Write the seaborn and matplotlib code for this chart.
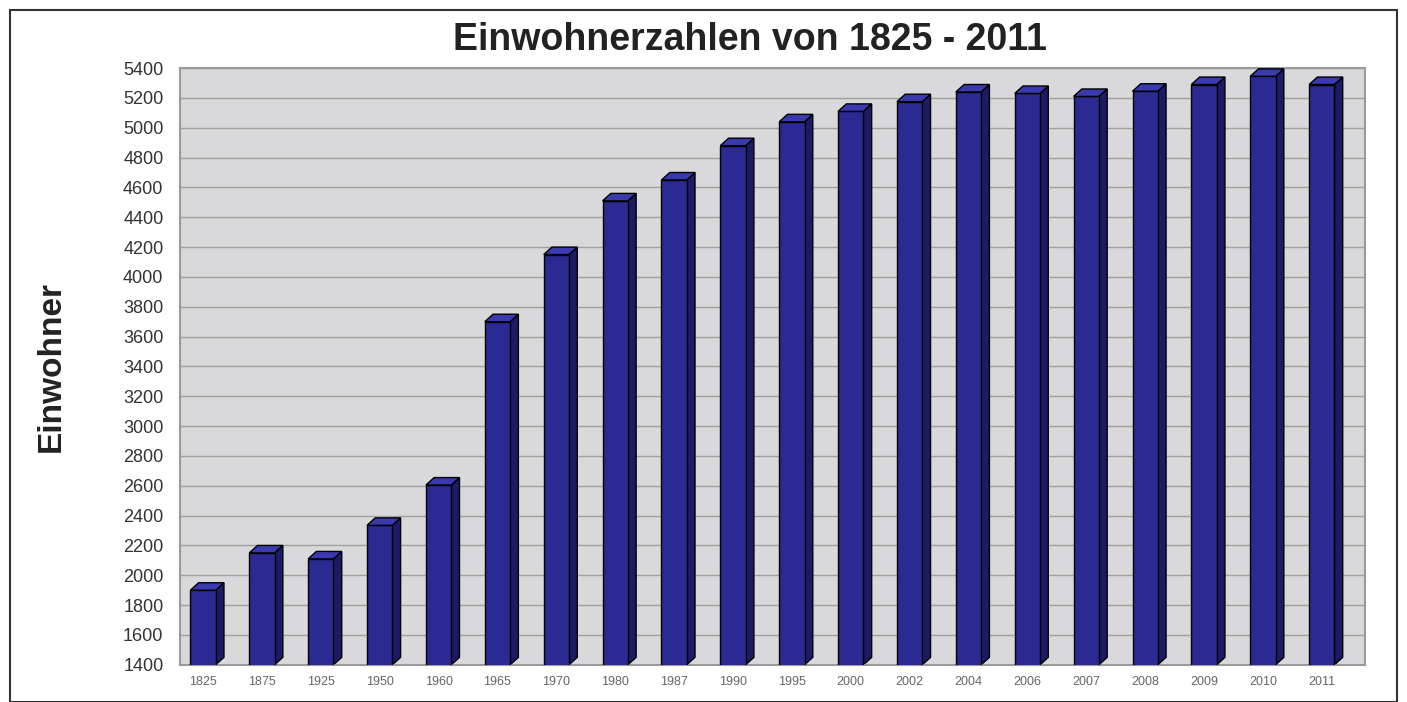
import numpy as np
import pandas as pd
import matplotlib
matplotlib.use("Agg")
import matplotlib.pyplot as plt
from matplotlib.patches import Polygon, Rectangle
import seaborn as sns

years = ["1825", "1875", "1925", "1950", "1960", "1965", "1970", "1980", "1987", "1990",
         "1995", "2000", "2002", "2004", "2006", "2007", "2008", "2009", "2010", "2011"]
einwohner = [1900, 2150, 2110, 2335, 2605, 3700, 4150, 4510, 4650, 4880,
             5040, 5110, 5175, 5240, 5230, 5210, 5245, 5290, 5345, 5290]

df = pd.DataFrame({"Jahr": years, "Einwohner": einwohner})

sns.set_style("white")
plt.rcParams["font.family"] = ["Liberation Sans", "DejaVu Sans"]

fig = plt.figure(figsize=(14.07, 7.02), dpi=100)
ax = fig.add_axes([0.128, 0.053, 0.842, 0.850])
ax.set_facecolor("#d9d9db")

sns.barplot(data=df, x="Jahr", y="Einwohner", color="#2a2a92", width=0.43,
            edgecolor="black", linewidth=1.0, saturation=1, ax=ax, zorder=3)

# simple 3D look: side and top faces from each bar's geometry
dx, dy = 0.14, 50
for p in ax.patches:
    x0, x1 = p.get_x(), p.get_x() + p.get_width()
    y0, y1 = 1400, p.get_y() + p.get_height()
    side = Polygon([(x1, y0), (x1 + dx, y0 + dy), (x1 + dx, y1 + dy), (x1, y1)],
                   closed=True, facecolor="#1c1c66", edgecolor="black", lw=1.0, zorder=2)
    top = Polygon([(x0, y1), (x0 + dx, y1 + dy), (x1 + dx, y1 + dy), (x1, y1)],
                  closed=True, facecolor="#3a3ab0", edgecolor="black", lw=1.0, zorder=4)
    ax.add_patch(side)
    ax.add_patch(top)

ax.set_ylim(1400, 5400)
ax.set_xlim(-0.39, len(years) - 0.27)
ax.set_yticks(np.arange(1400, 5401, 200))
ax.yaxis.grid(True, color="#a0a0a0", linewidth=1.0, zorder=0)
ax.set_axisbelow(True)
for s in ax.spines.values():
    s.set_color("#9a9a9a")
    s.set_linewidth(1.5)

ax.tick_params(axis="y", labelsize=13, colors="#333333", length=0, pad=12)
ax.tick_params(axis="x", labelsize=9, colors="#666666", length=0, pad=8)
ax.set_xlabel("")
ax.set_ylabel("Einwohner", fontsize=24, fontweight="bold", color="#222222")
ax.yaxis.set_label_coords(-0.096, 0.5)

fig.suptitle("Einwohnerzahlen von 1825 - 2011", fontsize=27, fontweight="bold",
             x=0.533, y=0.943, va="center", color="#222222")

fig.patches.append(Rectangle((0.007, 0.0), 0.986, 0.986, transform=fig.transFigure,
                             fill=False, edgecolor="#333333", linewidth=1.5))

fig.savefig("out.png", dpi=100)
